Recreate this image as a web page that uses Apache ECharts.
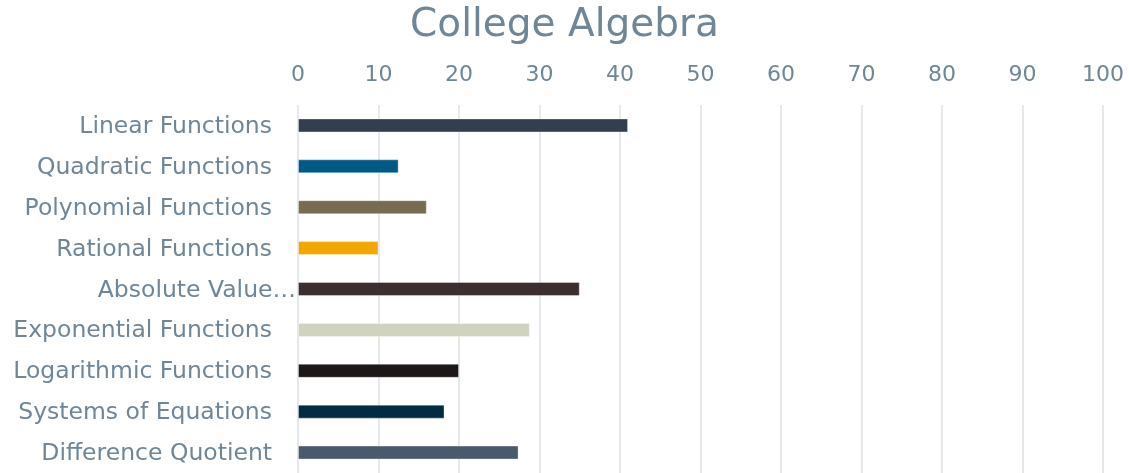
<!DOCTYPE html>
<html><head><meta charset="utf-8">
<script src="https://cdn.jsdelivr.net/npm/echarts@6/dist/echarts.min.js"></script>
<style>html,body{margin:0;padding:0;background:#fff}#c{width:1129px;height:473px}</style>
</head><body><div id="c"></div>
<script>
const categories = ["Linear Functions","Quadratic Functions","Polynomial Functions","Rational Functions","Absolute Value…","Exponential Functions","Logarithmic Functions","Systems of Equations","Difference Quotient"];
const values = [41, 12.5, 16, 10, 35, 28.8, 20, 18.2, 27.4];
const barColors = ["#333f4e","#005a87","#786b4f","#f0a800","#3c2f2f","#d1d3c1","#1d1717","#022c42","#485a6c"];
const xTicks = [0,10,20,30,40,50,60,70,80,90,100];

const txt = '#6e8698';
const font = 'DejaVu Sans';
const chart = echarts.init(document.getElementById('c'));
chart.setOption({
  animation:false,
  title:{text:'College Algebra',left:'center',top:1,textStyle:{fontFamily:font,fontWeight:'normal',fontSize:39,color:txt}},
  grid:{left:298,right:26,top:105,height:370,containLabel:false},
  xAxis:{type:'value',position:'top',min:xTicks[0],max:xTicks[xTicks.length-1],interval:10,
    axisLine:{show:false},axisTick:{show:false},
    axisLabel:{fontFamily:font,fontSize:22,color:txt,margin:19},
    splitLine:{lineStyle:{color:'#dde2e8',width:1.5}}},
  yAxis:{type:'category',inverse:true,data:categories,
    axisLine:{show:false},axisTick:{show:false},
    axisLabel:{margin:2,fontFamily:font,fontSize:23.5,color:txt,
      formatter:v=>v.endsWith('…')?'{e|'+v+'}':'{n|'+v+'}',
      rich:{n:{fontFamily:font,fontSize:23.5,color:txt,padding:[3,24,0,0]},e:{fontFamily:font,fontSize:23.5,color:txt,padding:[3,0,0,0]}}}},
  series:[{type:'bar',barWidth:14,
    data:values.map((v,i)=>({value:v,itemStyle:{color:barColors[i],borderColor:'rgba(255,255,255,0.35)',borderWidth:1}}))}]
});
</script></body></html>
